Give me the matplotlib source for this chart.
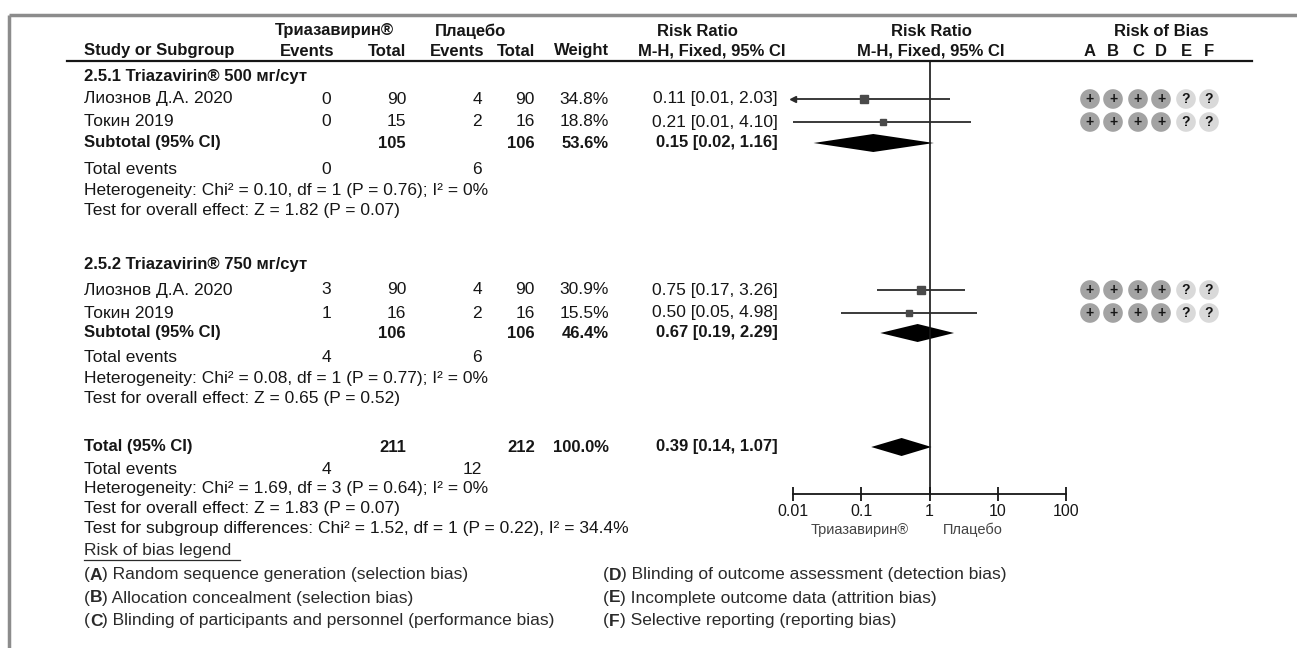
import matplotlib
matplotlib.use("Agg")
import matplotlib.pyplot as plt
from matplotlib.ticker import FixedLocator, FixedFormatter, NullLocator

plt.rcParams['font.family'] = ['Liberation Sans', 'DejaVu Sans']

# ---- data ----
study_names = ["Лиознов Д.А. 2020", "Токин 2019", "Лиознов Д.А. 2020", "Токин 2019"]
trz_events = [0, 0, 3, 1]
trz_total = [90, 15, 90, 16]
plc_events = [4, 2, 4, 2]
plc_total = [90, 16, 90, 16]
weights = [34.8, 18.8, 30.9, 15.5]
rr = [0.11, 0.21, 0.75, 0.50]
rr_lo = [0.01, 0.01, 0.17, 0.05]
rr_hi = [2.03, 4.10, 3.26, 4.98]
lo_off_scale = [True, False, False, False]
bias = [["+", "+", "+", "+", "?", "?"]] * 4

sub_names = ["2.5.1 Triazavirin® 500 мг/сут", "2.5.2 Triazavirin® 750 мг/сут"]
sub_trz_total = [105, 106]
sub_plc_total = [106, 106]
sub_weight = [53.6, 46.4]
sub_rr = [0.15, 0.67]
sub_lo = [0.02, 0.19]
sub_hi = [1.16, 2.29]
sub_trz_events = [0, 4]
sub_plc_events = [6, 6]
sub_het = ["Heterogeneity: Chi² = 0.10, df = 1 (P = 0.76); I² = 0%",
           "Heterogeneity: Chi² = 0.08, df = 1 (P = 0.77); I² = 0%"]
sub_z = ["Test for overall effect: Z = 1.82 (P = 0.07)",
         "Test for overall effect: Z = 0.65 (P = 0.52)"]

tot_trz_total, tot_plc_total, tot_weight = 211, 212, 100.0
tot_rr, tot_lo, tot_hi = 0.39, 0.14, 1.07
tot_trz_events, tot_plc_events = 4, 12
tot_het = "Heterogeneity: Chi² = 1.69, df = 3 (P = 0.64); I² = 0%"
tot_z = "Test for overall effect: Z = 1.83 (P = 0.07)"
sub_diff = "Test for subgroup differences: Chi² = 1.52, df = 1 (P = 0.22), I² = 34.4%"

axis_ticks = [0.01, 0.1, 1, 10, 100]
axis_labels = ["0.01", "0.1", "1", "10", "100"]
favours = ["Триазавирин®", "Плацебо"]
bias_letters = ["A", "B", "C", "D", "E", "F"]
legend_left = ["Random sequence generation (selection bias)",
               "Allocation concealment (selection bias)",
               "Blinding of participants and personnel (performance bias)"]
legend_right = ["Blinding of outcome assessment (detection bias)",
                "Incomplete outcome data (attrition bias)",
                "Selective reporting (reporting bias)"]

# ---- layout (pixels) ----
W, H = 1297, 648
fs = 12.5
fsb = 12
ink = "#161616"
x_name = 84
x_ev1, x_tot1, x_ev2, x_tot2, x_wt, x_ci = 331, 406, 482, 535, 609, 778
bias_x = [1090, 1113, 1138, 1161, 1186, 1209]
study_y = [99, 122, 290, 313]
head_y = [76, 264]
subtot_y = [143, 333]
tev_y = [170, 357]
het_y = [191, 378]
z_y = [211, 398]
total_y = 447
axis_y = 494

fig = plt.figure(figsize=(W / 100, H / 100), dpi=100)
ax = fig.add_axes([0, 0, 1, 1])
ax.set_xlim(0, W)
ax.set_ylim(H, 0)
ax.axis("off")

# frame
ax.plot([9, W], [15, 15], color="#8c8c8c", lw=2.5, solid_capstyle="butt")
ax.plot([9, 9], [15, H], color="#8c8c8c", lw=2.5, solid_capstyle="butt")

def t(x, y, s, ha="left", bold=False, color=ink, size=None, **kw):
    if size is None:
        size = fsb if bold else fs
    return ax.text(x, y, s, ha=ha, va="center", fontsize=size, color=color,
                   fontweight="bold" if bold else "normal", **kw)

# headers
t(334, 31, "Триазавирин®", ha="center", bold=True)
t(471, 31, "Плацебо", ha="center", bold=True)
t(697, 31, "Risk Ratio", ha="center", bold=True)
t(931, 31, "Risk Ratio", ha="center", bold=True)
t(1161, 31, "Risk of Bias", ha="center", bold=True)
t(x_name, 51, "Study or Subgroup", bold=True)
t(x_ev1 + 3, 51, "Events", ha="right", bold=True)
t(x_tot1, 51, "Total", ha="right", bold=True)
t(x_ev2 + 2, 51, "Events", ha="right", bold=True)
t(x_tot2, 51, "Total", ha="right", bold=True)
t(x_wt, 51, "Weight", ha="right", bold=True)
t(712, 51, "M-H, Fixed, 95% CI", ha="center", bold=True)
t(931, 51, "M-H, Fixed, 95% CI", ha="center", bold=True)
for bx, letter in zip(bias_x, bias_letters):
    t(bx, 51, letter, ha="center", bold=True)
ax.plot([67, 1252], [61, 61], color=ink, lw=1.6)

# study rows
for i, name in enumerate(study_names):
    y = study_y[i]
    t(x_name, y, name)
    t(x_ev1, y, str(trz_events[i]), ha="right")
    t(x_tot1, y, str(trz_total[i]), ha="right")
    t(x_ev2, y, str(plc_events[i]), ha="right")
    t(x_tot2, y, str(plc_total[i]), ha="right")
    t(x_wt, y, f"{weights[i]:.1f}%", ha="right")
    t(x_ci, y, f"{rr[i]:.2f} [{rr_lo[i]:.2f}, {rr_hi[i]:.2f}]", ha="right")

# subgroup blocks
for g in range(2):
    t(x_name, head_y[g], sub_names[g], bold=True)
    y = subtot_y[g]
    t(x_name, y, "Subtotal (95% CI)", bold=True)
    t(x_tot1, y, str(sub_trz_total[g]), ha="right", bold=True)
    t(x_tot2, y, str(sub_plc_total[g]), ha="right", bold=True)
    t(x_wt, y, f"{sub_weight[g]:.1f}%", ha="right", bold=True)
    t(x_ci, y, f"{sub_rr[g]:.2f} [{sub_lo[g]:.2f}, {sub_hi[g]:.2f}]", ha="right", bold=True)
    t(x_name, tev_y[g], "Total events")
    t(x_ev1, tev_y[g], str(sub_trz_events[g]), ha="right")
    t(x_ev2, tev_y[g], str(sub_plc_events[g]), ha="right")
    t(x_name, het_y[g], sub_het[g])
    t(x_name, z_y[g], sub_z[g])

# overall
t(x_name, total_y, "Total (95% CI)", bold=True)
t(x_tot1, total_y, str(tot_trz_total), ha="right", bold=True)
t(x_tot2, total_y, str(tot_plc_total), ha="right", bold=True)
t(x_wt, total_y, f"{tot_weight:.1f}%", ha="right", bold=True)
t(x_ci, total_y, f"{tot_rr:.2f} [{tot_lo:.2f}, {tot_hi:.2f}]", ha="right", bold=True)
t(x_name, 469, "Total events")
t(x_ev1, 469, str(tot_trz_events), ha="right")
t(x_ev2, 469, str(tot_plc_events), ha="right")
t(x_name, 489, tot_het)
t(x_name, 509, tot_z)
t(x_name, 529, sub_diff)

# risk of bias legend
leg_col = "#2a2a2a"
t(x_name, 551, "Risk of bias legend", color=leg_col)
ax.plot([x_name, 240], [560, 560], color=leg_col, lw=0.9)
for k in range(3):
    for xs, letter, desc in ((x_name, bias_letters[k], legend_left[k]),
                             (603, bias_letters[k + 3], legend_right[k])):
        y = 575 + 23 * k
        p1 = t(xs, y, "(", color=leg_col)
        p2 = ax.annotate(letter, xycoords=p1, xy=(1, 0.5), va="center", ha="left",
                         fontsize=fs, fontweight="bold", color=leg_col)
        ax.annotate(") " + desc, xycoords=p2, xy=(1, 0.5), va="center", ha="left",
                    fontsize=fs, color=leg_col)

# risk of bias symbols
for i, row in enumerate(bias):
    for bx, mark in zip(bias_x, row):
        face = "#a3a3a3" if mark == "+" else "#d9d9d9"
        ax.scatter([bx], [study_y[i]], s=200, color=face, edgecolors="none", zorder=2)
        t(bx, study_y[i], mark, ha="center", bold=True, size=10, zorder=3)

# ---- forest plot ----
x0, x1 = 793, 1066
fx = fig.add_axes([x0 / W, 0, (x1 - x0) / W, 1])
fx.set_xscale("log")
fx.set_xlim(0.01, 100)
fx.set_ylim(H, 0)
fx.patch.set_alpha(0)
for side in ("left", "right", "top"):
    fx.spines[side].set_visible(False)
fx.spines["bottom"].set_position(("data", axis_y))
fx.spines["bottom"].set_linewidth(1.3)
fx.spines["bottom"].set_color(ink)
fx.xaxis.set_major_locator(FixedLocator(axis_ticks))
fx.xaxis.set_major_formatter(FixedFormatter(axis_labels))
fx.xaxis.set_minor_locator(NullLocator())
fx.tick_params(axis="x", direction="inout", length=10, width=1.3, pad=2,
               labelsize=11.5, colors=ink)
fx.set_yticks([])

fx.plot([1, 1], [61, axis_y], color=ink, lw=1.2)

for i in range(len(rr)):
    y = study_y[i]
    fx.plot([rr_lo[i], rr_hi[i]], [y, y], color="#2b2b2b", lw=1.3, solid_capstyle="butt")
    fx.plot([rr[i]], [y], marker="s", ms=weights[i] ** 0.5 * 1.05,
            color="#4a4a4a", mec="#4a4a4a")
    if lo_off_scale[i]:
        fx.plot([rr_lo[i]], [y], marker="<", ms=5, color="#2b2b2b", clip_on=False)

def diamond(est, lo, hi, y, h=9):
    fx.fill([lo, est, hi, est], [y, y - h, y, y + h], color="black", lw=0)

for g in range(2):
    diamond(sub_rr[g], sub_lo[g], sub_hi[g], subtot_y[g])
diamond(tot_rr, tot_lo, tot_hi, total_y)

t(860, 530, favours[0], ha="center", color="#444444", size=10.5)
t(973, 530, favours[1], ha="center", color="#444444", size=10.5)

fig.savefig("out.png", dpi=100)
